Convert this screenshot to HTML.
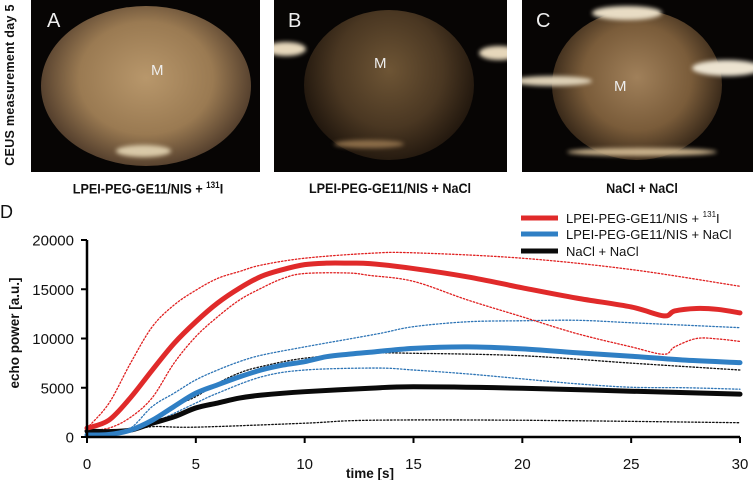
<!DOCTYPE html>
<html><head><meta charset="utf-8"><style>
body{margin:0;background:#fff;width:753px;height:480px;overflow:hidden;position:relative;font-family:"Liberation Sans",sans-serif}
.panel{position:absolute;top:0;height:172px;background:#070504;overflow:hidden}
.blob{position:absolute;border-radius:50%}
.lab{position:absolute;color:#eee;font-size:20px;top:10px}
.cap{position:absolute;top:180px;font-weight:bold;font-size:14px;text-align:center;color:#111;transform:scaleX(0.9);white-space:nowrap}
.m{position:absolute;color:#eee;font-size:15px}
</style></head><body>
<div style="position:absolute;left:-80px;top:78px;width:180px;transform:rotate(-90deg);font-weight:bold;font-size:12.5px;letter-spacing:0.3px;color:#111;text-align:center;white-space:nowrap">CEUS measurement day 5</div>

<div class="panel" style="left:31px;width:229px">
 <div class="blob" style="left:10px;top:6px;width:210px;height:160px;background:radial-gradient(ellipse at 50% 45%,#b8976b 0%,#9a7a52 45%,#5a4430 70%,#0a0806 100%)"></div>
 <div class="blob" style="left:85px;top:145px;width:55px;height:12px;background:#d9c9a8;filter:blur(2px)"></div>
 <div class="lab" style="left:16px">A</div>
 <div class="m" style="left:120px;top:62px">M</div>
</div>
<div class="panel" style="left:274px;width:233px">
 <div class="blob" style="left:30px;top:10px;width:170px;height:150px;background:radial-gradient(ellipse at 50% 40%,#6e5535 0%,#4a3722 45%,#20160d 75%,#070504 100%)"></div>
 <div class="blob" style="left:-8px;top:42px;width:40px;height:14px;background:#e6d7bb;filter:blur(2px)"></div>
 <div class="blob" style="left:205px;top:46px;width:40px;height:14px;background:#e6d7bb;filter:blur(2px)"></div>
 <div class="blob" style="left:60px;top:140px;width:70px;height:8px;background:#8a6c48;filter:blur(2px)"></div>
 <div class="lab" style="left:14px">B</div>
 <div class="m" style="left:100px;top:55px">M</div>
</div>
<div class="panel" style="left:522px;width:231px">
 <div class="blob" style="left:30px;top:10px;width:170px;height:150px;background:radial-gradient(ellipse at 50% 45%,#a0805a 0%,#7a5c3a 45%,#3a2a1a 72%,#070504 100%)"></div>
 <div class="blob" style="left:70px;top:6px;width:70px;height:14px;background:#e8dcc4;filter:blur(2px)"></div>
 <div class="blob" style="left:-10px;top:76px;width:80px;height:10px;background:#ddd0b6;filter:blur(2px)"></div>
 <div class="blob" style="left:170px;top:60px;width:70px;height:16px;background:#ece3d0;filter:blur(2px)"></div>
 <div class="blob" style="left:45px;top:148px;width:150px;height:8px;background:#c8b08a;filter:blur(2px)"></div>
 <div class="lab" style="left:14px">C</div>
 <div class="m" style="left:92px;top:78px">M</div>
</div>
<div class="cap" style="left:48px;width:200px">LPEI-PEG-GE11/NIS + <sup style="font-size:9px">131</sup>I</div>
<div class="cap" style="left:290px;width:200px">LPEI-PEG-GE11/NIS + NaCl</div>
<div class="cap" style="left:542px;width:200px">NaCl + NaCl</div>

<svg id="chart" width="753" height="480" style="position:absolute;left:0;top:0" xmlns="http://www.w3.org/2000/svg"></svg>
<script>
const tRed=[0,1,2,3,4,5,6,7,8,9,10,11,12,13,15,17.5,20,22.5,25,26.5,27,28,29,30];
const red=[900,1700,4000,6800,9500,11700,13600,15100,16300,17000,17500,17650,17650,17600,17100,16250,15150,14100,13200,12300,12800,13050,12950,12600];
const tRedHi=[0,1,2,3,4,5,6,7,8,10,13,15,20,25,30];
const redHi=[900,3400,7500,11200,13400,14900,16100,16800,17450,18150,18650,18700,18150,17000,15300];
const tRedLo=[0,1,2,3,4,5,6,7,8,9,10,12,13,15,17.5,20,22.5,25,26.5,27,28,29,30];
const redLo=[700,900,2000,4000,7500,10200,12200,13900,15100,16100,16600,16650,16400,15800,13900,12200,10500,9150,8400,9150,10000,9950,9700];
const tBlue=[0,1,2,3,4,5,6,7,8,9,10,11,12,13,15,17.5,20,22.5,25,27.5,30];
const blue=[200,250,700,1700,3100,4450,5300,6100,6800,7300,7650,8150,8400,8600,9000,9150,8950,8550,8200,7800,7550];
const tBlueHi=[0,1,2,3,4,5,6,7,8,10,13.3,15,17.5,20,22.5,25,27.5,30];
const blueHi=[200,300,900,3100,4450,5800,6800,7650,8300,9150,10450,11200,11700,11800,11850,11600,11350,11100];
const tBlueLo=[0,2,3,4,5,6,8,10,13.3,15,17.5,20,22.5,25,27.5,30];
const blueLo=[100,600,1400,2400,3450,4450,6100,6800,7000,6800,6400,5900,5400,5050,5000,4850];
const tBlack=[0,1,2,3,4,5,6,7,8,10,13,15,20,25,30];
const black=[600,550,700,1400,2050,2950,3450,3950,4250,4600,4950,5100,4950,4650,4350];
const tBlackHi=[0,2,3,4,5,6,7,8,10,13,15,20,25,30];
const blackHi=[300,700,1750,3100,4100,5450,6500,7150,8000,8500,8500,8250,7500,6800];
const tBlackLo=[0,2,3,5,10,13,20,30];
const blackLo=[100,600,1050,1000,1400,1700,1700,1450];
const xTicks=[0,5,10,15,20,25,30];
const yTicks=[0,5000,10000,15000,20000];
const legendLabels=["LPEI-PEG-GE11/NIS + ","LPEI-PEG-GE11/NIS + NaCl","NaCl + NaCl"];

const NS="http://www.w3.org/2000/svg";
const svg=document.getElementById('chart');
const X0=87,X1=740,Y0=437,Y1=240;
const xs=t=>X0+t/30*(X1-X0);
const ys=v=>Y0-v/20000*(Y0-Y1);
function mk(tag,attrs,parent){const e=document.createElementNS(NS,tag);for(const k in attrs)e.setAttribute(k,attrs[k]);(parent||svg).appendChild(e);return e;}
function smooth(ts,vs){let p=ts.map((t,i)=>[xs(t),ys(vs[i])]);let d='M'+p[0][0]+','+p[0][1];
 for(let i=0;i<p.length-1;i++){const p0=p[i-1]||p[i],p1=p[i],p2=p[i+1],p3=p[i+2]||p2;
 d+=' C'+(p1[0]+(p2[0]-p0[0])/6)+','+(p1[1]+(p2[1]-p0[1])/6)+' '+(p2[0]-(p3[0]-p1[0])/6)+','+(p2[1]-(p3[1]-p1[1])/6)+' '+p2[0]+','+p2[1];}return d;}
function series(ts,vs,color,w,dash,name){const e=mk('path',{d:smooth(ts,vs),fill:'none',stroke:color,'stroke-width':w,'stroke-linecap':'round'});
 if(dash)e.setAttribute('stroke-dasharray',dash);
 
 }
series(tBlackLo,blackLo,'#111',1.3,'1.5,2','black-lower-bound');
series(tBlackHi,blackHi,'#111',1.3,'1.5,2','black-upper-bound');
series(tBlueLo,blueLo,'#2e75b6',1.3,'1.5,2','blue-lower-bound');
series(tBlueHi,blueHi,'#2e75b6',1.3,'1.5,2','blue-upper-bound');
series(tRedLo,redLo,'#e02020',1.3,'1.5,2','red-lower-bound');
series(tRedHi,redHi,'#e02020',1.3,'1.5,2','red-upper-bound');
series(tBlack,black,'#0a0a0a',5,null,'black-series-line');
series(tBlue,blue,'#2f7fc4',5,null,'blue-series-line');
series(tRed,red,'#e02a2a',5,null,'red-series-line');
let ax=mk('line',{x1:X0,y1:Y1,x2:X0,y2:Y0+1,stroke:'#000','stroke-width':2.5});

ax=mk('line',{x1:X0-1,y1:Y0,x2:X1,y2:Y0,stroke:'#000','stroke-width':2.5});

yTicks.forEach(v=>{mk('line',{x1:X0-6,y1:ys(v),x2:X0,y2:ys(v),stroke:'#000','stroke-width':2});
 const t=mk('text',{x:74,y:ys(v)+5.5,'text-anchor':'end','font-size':15,fill:'#111'});t.textContent=v;
 });
xTicks.forEach(v=>{mk('line',{x1:xs(v),y1:Y0,x2:xs(v),y2:Y0+6,stroke:'#000','stroke-width':2});
 const t=mk('text',{x:xs(v),y:469,'text-anchor':'middle','font-size':15,fill:'#111'});t.textContent=v;
 });
let tt=mk('text',{x:370,y:478,'text-anchor':'middle','font-size':13.5,'font-weight':'bold',fill:'#111'});tt.textContent='time [s]';

tt=mk('text',{x:0,y:0,'text-anchor':'middle','font-size':13.5,'font-weight':'bold',fill:'#111',transform:'translate(19,333) rotate(-90)'});tt.textContent='echo power [a.u.]';

tt=mk('text',{x:0,y:218,'font-size':18,fill:'#111'});tt.textContent='D';

const lc=['#e02a2a','#2f7fc4','#0a0a0a'],ly=[218,234,251];
legendLabels.forEach((s,i)=>{const l=mk('line',{x1:521,y1:ly[i],x2:558,y2:ly[i],stroke:lc[i],'stroke-width':5});
 
 const t=mk('text',{x:566,y:ly[i]+5,'font-size':13,fill:'#111'});t.textContent=s;
 
 if(i===0){const a=mk('tspan',{'font-size':8,dy:-6},t);a.textContent='131';const b=mk('tspan',{'font-size':13,dy:6},t);b.textContent='I';}});
</script>
</body></html>
